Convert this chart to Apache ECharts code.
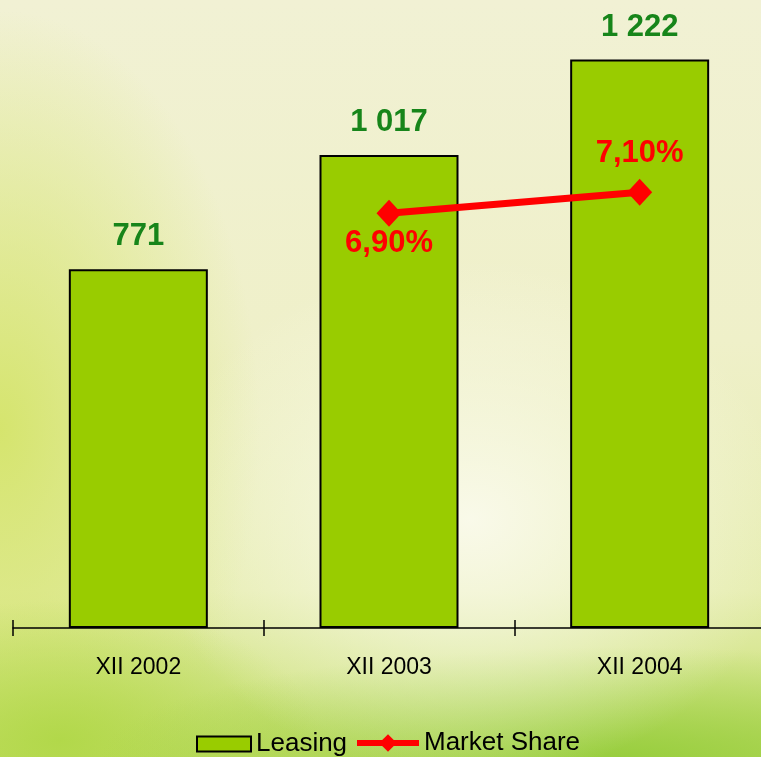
<!DOCTYPE html>
<html>
<head>
<meta charset="utf-8">
<script src="https://cdn.jsdelivr.net/npm/echarts@6/dist/echarts.min.js"></script>
<style>
html,body{margin:0;padding:0;}
#chart{width:761px;height:757px;
background:
 radial-gradient(ellipse 320px 260px at 470px 520px, rgba(250,250,236,0.95), rgba(250,250,236,0) 100%),
 radial-gradient(ellipse 520px 110px at 620px 757px, rgba(150,205,60,0.95), rgba(150,205,60,0)),
 radial-gradient(ellipse 260px 140px at 60px 740px, rgba(175,215,70,0.9), rgba(175,215,70,0)),
 radial-gradient(ellipse 260px 420px at 0px 430px, rgba(212,228,105,0.95), rgba(212,228,105,0)),
 linear-gradient(180deg, #f1f1d4 0%, #eff0c9 45%, #e6edb0 78%, #c4de6a 100%);
}
</style>
</head>
<body>
<div id="chart"></div>
<script>
var categories = ['XII 2002', 'XII 2003', 'XII 2004'];
var leasing = [771, 1017, 1222];
var leasingLabels = ['771', '1 017', '1 222'];
var marketShare = [null, 6.90, 7.10];
var marketShareLabels = ['', '6,90%', '7,10%'];
var shareLabelPos = ['top', 'bottom', 'top'];
var shareLabelDist = [10, 1, 10];

var chart = echarts.init(document.getElementById('chart'), null, {renderer: 'canvas'});
var font = 'Liberation Sans, Arial, sans-serif';
var option = {
  backgroundColor: 'transparent',
  animation: false,
  grid: {left: 13, width: 752, top: 0, bottom: 129, containLabel: false, outerBoundsMode: 'none'},
  legend: [{
    top: 731, left: 196, padding: 0, itemGap: 6,
    itemWidth: 54, itemHeight: 15,
    textStyle: {fontFamily: font, fontSize: 26, color: '#000'},
    data: [{name: 'Leasing', icon: 'rect'}]
  }, {
    top: 730, left: 354, padding: 0, itemGap: 6,
    itemWidth: 62, itemHeight: 22,
    lineStyle: {width: 6, color: '#ff0000'},
    textStyle: {fontFamily: font, fontSize: 26, color: '#000'},
    data: [{name: 'Market Share'}]
  }],
  xAxis: [{
    type: 'category', data: categories,
    axisLine: {lineStyle: {color: '#000', width: 1.5}},
    axisTick: {show: true, length: 8, lineStyle: {color: '#000', width: 1.5}},
    axisLabel: {fontFamily: font, fontSize: 23, color: '#000', margin: 28}
  }, {
    type: 'category', data: categories, position: 'bottom',
    axisLine: {show: false},
    axisTick: {show: true, inside: true, length: 8, lineStyle: {color: '#000', width: 1.5}},
    axisLabel: {show: false}
  }],
  yAxis: [{
    type: 'value', min: 0, max: 1350, show: false, splitLine: {show: false}
  }, {
    type: 'value', min: 2.95, max: 8.93, show: false, splitLine: {show: false}
  }],
  series: [{
    name: 'Leasing', type: 'bar', barWidth: 139,
    data: leasing,
    itemStyle: {color: '#99cc00', borderColor: '#000', borderWidth: 2},
    label: {
      show: true, position: 'top', distance: 17,
      fontFamily: font, fontSize: 31, fontWeight: 'bold', color: '#17851a',
      formatter: function (p) { return leasingLabels[p.dataIndex]; }
    }
  }, {
    name: 'Market Share', type: 'line', yAxisIndex: 1,
    data: marketShare.map(function (v, i) {
      return {value: v, label: {position: shareLabelPos[i], distance: shareLabelDist[i]}};
    }),
    symbol: 'diamond', symbolSize: [25, 27], showAllSymbol: true,
    lineStyle: {color: '#ff0000', width: 7},
    itemStyle: {color: '#ff0000'},
    label: {
      show: true, fontFamily: font, fontSize: 31, fontWeight: 'bold', color: '#ff0000',
      formatter: function (p) { return marketShareLabels[p.dataIndex]; }
    }
  }]
};
chart.setOption(option);
</script>
</body>
</html>
